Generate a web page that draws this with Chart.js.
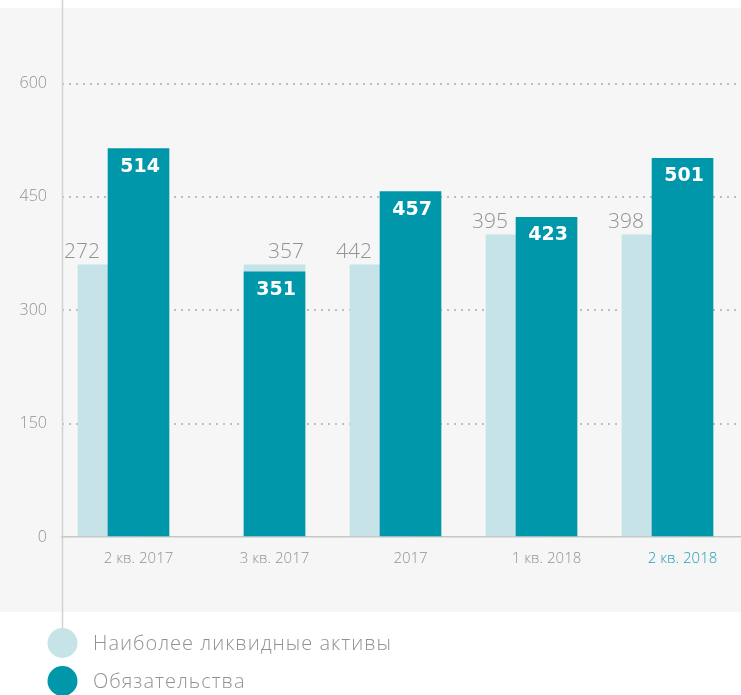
<!DOCTYPE html>
<html>
<head>
<meta charset="utf-8">
<script src="https://cdn.jsdelivr.net/npm/chart.js@4.4.0/dist/chart.umd.min.js"></script>
<style>
  html, body { margin: 0; padding: 0; background: #fff; }
  #wrap { width: 741px; height: 695px; position: relative; }
</style>
</head>
<body>
<div id="wrap"><canvas id="grafica"></canvas></div>
<script>
// categories and values
var periodos = ['2 кв. 2017', '3 кв. 2017', '2017', '1 кв. 2018', '2 кв. 2018'];
var obligaciones = [514, 351, 457, 423, 501];
// light bars: drawn height in the picture and the number printed above them
var activos_altura = [360, 360, 360, 400, 400];
var activos_texto = [272, 357, 442, 395, 398];
var ticks_y = [0, 150, 300, 450, 600];
var leyenda = ['Наиболее ликвидные активы', 'Обязательства'];

var COLOR_CLARO = '#c6e3e7';
var COLOR_OSCURO = '#0097ab';
var COLOR_TEXTO = '#929292';
var DESPLAZA = 30 / 136; // light bar sits half a bar to the left

var fuenteLigera = '"Open Sans"';

var plugin_fondo = {
	id: 'fondo',
	beforeDraw: function(chart) {
		var c = chart.ctx;
		c.save();
		c.fillStyle = '#ffffff';
		c.fillRect(0, 0, chart.width, chart.height);
		c.fillStyle = '#f6f6f6';
		c.fillRect(0, 8, chart.width, 604);
		c.restore();
	},
	afterDraw: function(chart) {
		var c = chart.ctx;
		var x0 = chart.chartArea.left;
		c.save();
		// long vertical axis line
		c.strokeStyle = '#d2d2d2';
		c.lineWidth = 1.5;
		c.beginPath();
		c.moveTo(x0 + 0.5, 0);
		c.lineTo(x0 + 0.5, 630);
		c.stroke();
		// legend
		var colores = [COLOR_CLARO, COLOR_OSCURO];
		var ys = [643, 681];
		c.font = '300 20px ' + fuenteLigera;
		c.letterSpacing = '1px';
		c.textBaseline = 'middle';
		c.textAlign = 'left';
		for (var i = 0; i < leyenda.length; i++) {
			c.fillStyle = colores[i];
			c.beginPath();
			c.arc(x0 + 0.5, ys[i], 15, 0, Math.PI * 2);
			c.fill();
			c.fillStyle = COLOR_TEXTO;
			c.fillText(leyenda[i], 93, ys[i] + 1);
		}
		c.restore();
	}
};

var plugin_etiquetas = {
	id: 'etiquetas',
	afterDatasetsDraw: function(chart) {
		var c = chart.ctx;
		var oscuro = chart.getDatasetMeta(0).data;
		var claro = chart.getDatasetMeta(1).data;
		c.save();
		for (var i = 0; i < periodos.length; i++) {
			var d = oscuro[i], l = claro[i];
			// light value above the light bar
			c.font = '300 21px ' + fuenteLigera;
			c.fillStyle = COLOR_TEXTO;
			c.textAlign = 'right';
			c.textBaseline = 'alphabetic';
			var xr;
			if (Math.abs(l.x - d.x) < 1) {
				xr = l.x + l.width / 2 - 1;
			} else {
				xr = d.x - d.width / 2 - 8;
			}
			c.fillText(String(activos_texto[i]), xr, l.y - 7);
			// white value inside the dark bar
			c.font = 'bold 19px "DejaVu Sans"';
			c.fillStyle = '#ffffff';
			c.fillText(String(obligaciones[i]), d.x + d.width / 2 - 9, d.y + 23);
		}
		c.restore();
	}
};

var ctx = document.getElementById('grafica').getContext('2d');
var chart = new Chart(ctx, {
	type: 'bar',
	data: {
		datasets: [{
			label: leyenda[1],
			data: periodos.map(function(p, i) { return {x: i, y: obligaciones[i]}; }),
			backgroundColor: COLOR_OSCURO,
			barThickness: 61,
			grouped: false,
			order: 1
		}, {
			label: leyenda[0],
			data: periodos.map(function(p, i) {
				var dx = activos_texto[i] > obligaciones[i] ? 0 : DESPLAZA;
				return {x: i - dx, y: activos_altura[i]};
			}),
			backgroundColor: COLOR_CLARO,
			barThickness: 61,
			grouped: false,
			order: 2
		}]
	},
	options: {
		responsive: true,
		maintainAspectRatio: false,
		animation: false,
		layout: { padding: { top: 8, bottom: 108, left: 0, right: 0 } },
		plugins: {
			legend: { display: false },
			tooltip: { enabled: false }
		},
		scales: {
			x: {
				type: 'linear',
				offset: false,
				bounds: 'data',
				min: -0.5625,
				max: 4.43,
				afterBuildTicks: function(s) {
					s.ticks = periodos.map(function(p, i) { return {value: i}; });
				},
				afterFit: function(s) {
					s.height = 50;
					s.paddingLeft = 0; s.paddingRight = 0;
					s.paddingTop = 0; s.paddingBottom = 0;
				},
				grid: { display: false, drawTicks: false, offset: false },
				border: { display: true, color: '#c6c6c6', width: 1.5 },
				ticks: {
					autoSkip: false,
					maxRotation: 0,
					padding: 13,
					font: { family: fuenteLigera, size: 15, weight: '300' },
					color: function(c) { return c.index === periodos.length - 1 ? '#1f9fb2' : COLOR_TEXTO; },
					callback: function(v) { return periodos[v]; }
				}
			},
			y: {
				min: 0,
				max: 700,
				bounds: 'data',
				afterBuildTicks: function(s) {
					s.ticks = ticks_y.map(function(v) { return {value: v}; });
				},
				afterFit: function(s) {
					s.width = 62;
					s.paddingTop = 0; s.paddingBottom = 0;
					s.paddingLeft = 0; s.paddingRight = 0;
				},
				grid: {
					drawTicks: false,
					lineWidth: 2,
					color: function(c) { return c.tick && c.tick.value === 0 ? 'rgba(0,0,0,0)' : '#bdbdbd'; }
				},
				border: { display: false, dash: [2, 5] },
				ticks: {
					padding: 15,
					font: { family: fuenteLigera, size: 16, weight: '300' },
					color: COLOR_TEXTO
				}
			}
		}
	},
	plugins: [plugin_fondo, plugin_etiquetas]
});
</script>
</body>
</html>
